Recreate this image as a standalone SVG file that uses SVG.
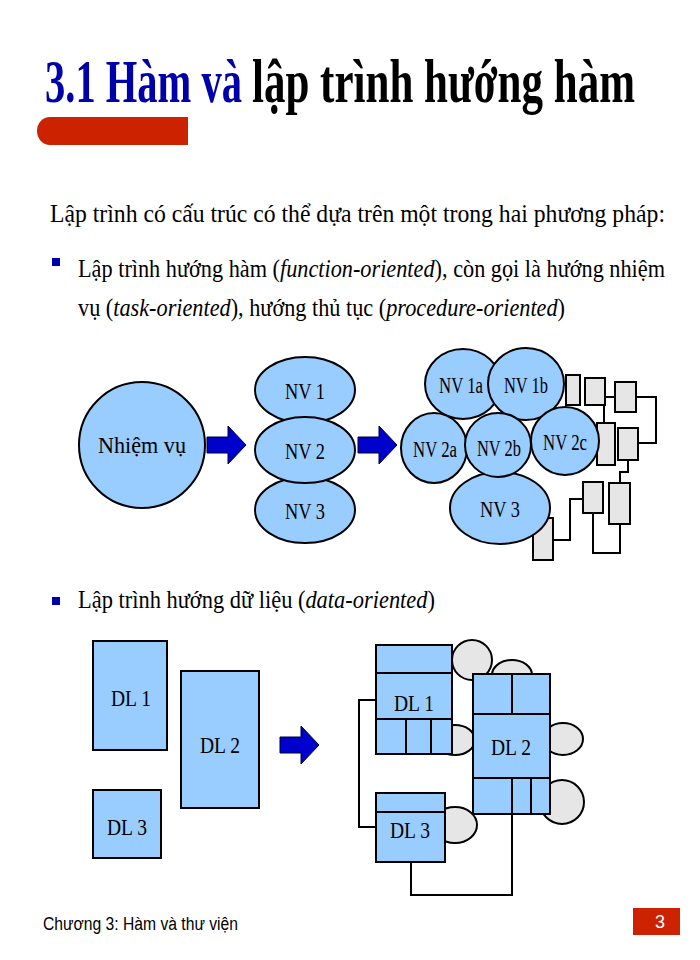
<svg xmlns="http://www.w3.org/2000/svg" width="700" height="960" viewBox="0 0 700 960">
<style>
.t{font-family:"Liberation Serif",serif;fill:#000}
.e{fill:#99ccff;stroke:#000;stroke-width:2}
.g{fill:#e6e6e6;stroke:#000;stroke-width:2}
.b{fill:#99ccff;stroke:#000;stroke-width:2}
.l{fill:none;stroke:#000;stroke-width:2}
.lbl{font-family:"Liberation Serif",serif;font-size:24px;text-anchor:middle;fill:#000}
.ar{fill:#0000cc;stroke:#000033;stroke-width:1}
.bul{fill:#0000aa}
</style>
<rect width="700" height="960" fill="#fff"/>
<g id="title">
<text x="45" y="102" class="t" font-size="62" font-weight="bold" textLength="197" lengthAdjust="spacingAndGlyphs" style="fill:#0000aa">3.1 Hàm và</text>
<text x="252" y="102" class="t" font-size="62" font-weight="bold" textLength="383" lengthAdjust="spacingAndGlyphs">lập trình hướng hàm</text>
<path d="M50 117 H188 V145 H50 A13 14 0 0 1 50 117 Z" fill="#cc2200"/>
</g>
<g id="body">
<text x="50" y="222" class="t" font-size="25" textLength="615" lengthAdjust="spacingAndGlyphs">Lập trình có cấu trúc có thể dựa trên một trong hai phương pháp:</text>
<rect x="52" y="258" width="8" height="8" class="bul"/>
<text x="78" y="277" class="t" font-size="25" textLength="587" lengthAdjust="spacingAndGlyphs">Lập trình hướng hàm (<tspan font-style="italic">function-oriented</tspan>), còn gọi là hướng nhiệm</text>
<text x="78" y="316" class="t" font-size="25" textLength="487" lengthAdjust="spacingAndGlyphs">vụ (<tspan font-style="italic">task-oriented</tspan>), hướng thủ tục (<tspan font-style="italic">procedure-oriented</tspan>)</text>
<rect x="52" y="597" width="8" height="8" class="bul"/>
<text x="78" y="608" class="t" font-size="25" textLength="357" lengthAdjust="spacingAndGlyphs">Lập trình hướng dữ liệu (<tspan font-style="italic">data-oriented</tspan>)</text>
</g>
<g id="connectors">
<path class="ar" d="M207 437 H228 V426 L246 445 L228 464 V453 H207 Z"/>
<path class="ar" d="M358 437 H379 V426 L397 445 L379 464 V453 H358 Z"/>
<path class="ar" d="M280 737 H301 V726 L319 745 L301 764 V753 H280 Z"/>
<path class="l" d="M605 397 H615 M636 397 H656 V443 H638 M604 405 V423 M628 460 V472 H620 V483 M553 540 H570 V499 H583 M593 513 V553 H620 V524"/>
<path class="l" d="M376 700 H359 V827 H376 M411 862 V895 H512 V814"/>
</g>
<g id="gray">
<rect x="566" y="375" width="14" height="30" class="g"/>
<rect x="585" y="378" width="20" height="27" class="g"/>
<rect x="615" y="382" width="21" height="30" class="g"/>
<rect x="597" y="423" width="18" height="42" class="g"/>
<rect x="618" y="428" width="20" height="32" class="g"/>
<rect x="583" y="482" width="20" height="31" class="g"/>
<rect x="609" y="483" width="21" height="41" class="g"/>
<rect x="533" y="518" width="20" height="42" class="g"/>
</g>
<g id="task">
<circle cx="142" cy="445" r="63" class="e"/><text x="142" y="453" class="lbl" textLength="88" lengthAdjust="spacingAndGlyphs">Nhiệm vụ</text>
</g>
<g id="nv1"><ellipse cx="305" cy="390" rx="50" ry="33" class="e"/><text x="305" y="399" class="lbl" textLength="40" lengthAdjust="spacingAndGlyphs">NV 1</text></g>
<g id="nv3l"><ellipse cx="305" cy="510" rx="50" ry="33" class="e"/><text x="305" y="519" class="lbl" textLength="40" lengthAdjust="spacingAndGlyphs">NV 3</text></g>
<g id="nv2"><ellipse cx="305" cy="450" rx="50" ry="33" class="e"/><text x="305" y="459" class="lbl" textLength="40" lengthAdjust="spacingAndGlyphs">NV 2</text></g>
<g id="nv1a"><ellipse cx="463" cy="384" rx="38" ry="35" class="e"/><text x="461" y="393" class="lbl" textLength="44" lengthAdjust="spacingAndGlyphs">NV 1a</text></g>
<g id="nv1b"><ellipse cx="526" cy="384" rx="38" ry="36" class="e"/><text x="526" y="393" class="lbl" textLength="44" lengthAdjust="spacingAndGlyphs">NV 1b</text></g>
<g id="nv3r"><ellipse cx="500" cy="508" rx="50" ry="36" class="e"/><text x="500" y="517" class="lbl" textLength="40" lengthAdjust="spacingAndGlyphs">NV 3</text></g>
<g id="nv2a"><ellipse cx="434" cy="448" rx="33" ry="35" class="e"/><text x="435" y="457" class="lbl" textLength="44" lengthAdjust="spacingAndGlyphs">NV 2a</text></g>
<g id="nv2c"><ellipse cx="565" cy="441" rx="34" ry="34" class="e"/><text x="565" y="450" class="lbl" textLength="44" lengthAdjust="spacingAndGlyphs">NV 2c</text></g>
<g id="nv2b"><ellipse cx="498" cy="445" rx="33" ry="32" class="e"/><text x="499" y="456" class="lbl" textLength="44" lengthAdjust="spacingAndGlyphs">NV 2b</text></g>
<g id="dl1l"><rect x="93" y="641" width="74" height="109" class="b"/><text x="131" y="706" class="lbl" textLength="40" lengthAdjust="spacingAndGlyphs">DL 1</text></g>
<g id="dl2l"><rect x="181" y="671" width="78" height="137" class="b"/><text x="220" y="753" class="lbl" textLength="40" lengthAdjust="spacingAndGlyphs">DL 2</text></g>
<g id="dl3l"><rect x="93" y="790" width="68" height="68" class="b"/><text x="127" y="835" class="lbl" textLength="40" lengthAdjust="spacingAndGlyphs">DL 3</text></g>
<g id="dl1r">
<circle cx="472" cy="660" r="20" class="g"/>
<ellipse cx="455" cy="740" rx="20" ry="15" class="g"/>
<rect x="376" y="645" width="76" height="109" class="b"/>
<path class="l" d="M376 673 H452 M376 719 H452 M406 719 V754 M431 719 V754"/>
<text x="414" y="711" class="lbl" textLength="40" lengthAdjust="spacingAndGlyphs">DL 1</text>
</g>
<g id="dl2r">
<ellipse cx="512" cy="675" rx="20" ry="15" class="g"/>
<ellipse cx="563" cy="739" rx="20" ry="16" class="g"/>
<circle cx="562" cy="802" r="22" class="g"/>
<rect x="473" y="674" width="77" height="140" class="b"/>
<path class="l" d="M473 714 H550 M512 674 V714 M473 778 H550 M512 778 V814 M531 778 V814"/>
<text x="511" y="755" class="lbl" textLength="40" lengthAdjust="spacingAndGlyphs">DL 2</text>
</g>
<g id="dl3r">
<ellipse cx="455" cy="825" rx="22" ry="18" class="g"/>
<rect x="376" y="793" width="69" height="69" class="b"/>
<path class="l" d="M376 812 H445"/>
<text x="410" y="838" class="lbl" textLength="40" lengthAdjust="spacingAndGlyphs">DL 3</text>
</g>
<g id="footer">
<text x="43" y="930" font-family="Liberation Sans, sans-serif" font-size="18" fill="#000" textLength="195" lengthAdjust="spacingAndGlyphs">Chương 3: Hàm và thư viện</text>
<rect x="633" y="908" width="47" height="27" fill="#cc2200"/>
<text x="660" y="928" font-family="Liberation Sans, sans-serif" font-size="18" fill="#fff" text-anchor="middle">3</text>
</g>
</svg>
